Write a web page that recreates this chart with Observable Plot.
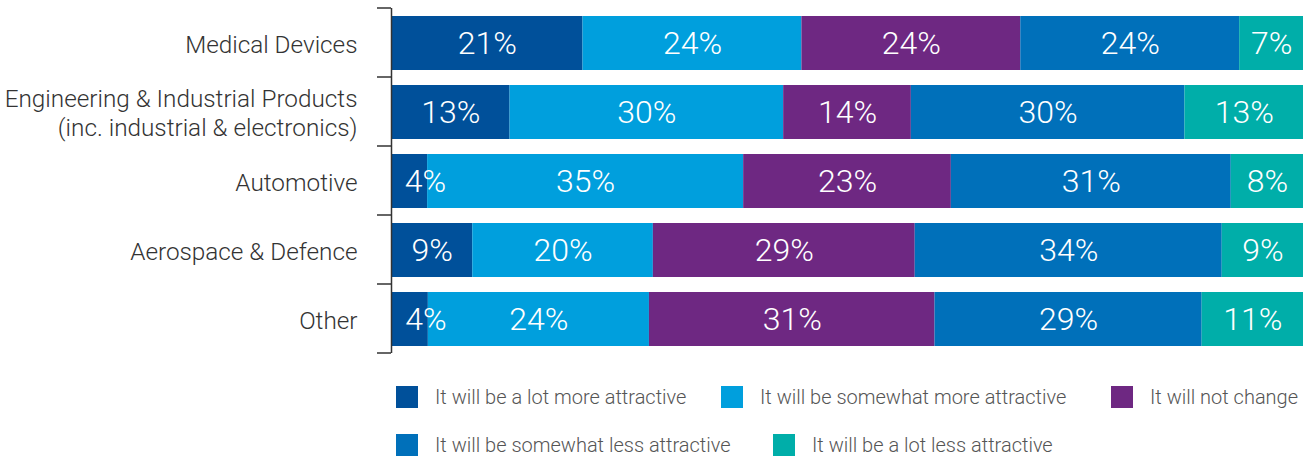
<!DOCTYPE html>
<html>
<head>
<meta charset="utf-8">
<script src="https://cdn.jsdelivr.net/npm/d3@7"></script>
<script src="https://cdn.jsdelivr.net/npm/@observablehq/plot@0.6"></script>
<style>
  body { margin: 0; background: #fff; font-family: Roboto, "Noto Sans", sans-serif; }
  #chart { position: relative; width: 1306px; }
  #legend { position: relative; width: 1306px; height: 98px; }
  .item { position: absolute; display: flex; align-items: center; font-size: 20px; font-weight: 300; color: #555; white-space: nowrap; }
  .sw { width: 22px; height: 22px; margin-right: 17px; flex: none; }
</style>
</head>
<body>
<div id="chart"></div>
<div id="legend"></div>
<script>
const categories = [
  "Medical Devices",
  "Engineering & Industrial Products\n(inc. industrial & electronics)",
  "Automotive",
  "Aerospace & Defence",
  "Other"
];
const series = [
  "It will be a lot more attractive",
  "It will be somewhat more attractive",
  "It will not change",
  "It will be somewhat less attractive",
  "It will be a lot less attractive"
];
const colors = ["#00509a", "#009fdd", "#6e2882", "#0070ba", "#00aea9"];
// values per category, in series order
const medical     = [21, 24, 24, 24, 7];
const engineering = [13, 30, 14, 30, 13];
const automotive  = [4, 35, 23, 31, 8];
const aerospace   = [9, 20, 29, 34, 9];
const other       = [4, 24, 31, 29, 11];
const valuesByCategory = [medical, engineering, automotive, aerospace, other];

const data = [];
categories.forEach((c, i) => series.forEach((s, j) => data.push({category: c, series: s, value: valuesByCategory[i][j]})));

const stack = {x: "value", y: "category", z: "series", order: series, offset: "normalize"};
const labelStyle = {fill: "white", fontSize: 32, fontWeight: 300};

// small tick marks at the category band boundaries on the left axis
function boundaryTicks(index, scales, values, dims) {
  const g = d3.create("svg:g").attr("stroke", "#333").attr("stroke-width", 1.5);
  const n = categories.length;
  const step = (dims.height - dims.marginTop - dims.marginBottom) / n;
  for (let i = 0; i <= n; i++) {
    const yy = dims.marginTop + i * step;
    g.append("line").attr("x1", dims.marginLeft - 14).attr("x2", dims.marginLeft).attr("y1", yy).attr("y2", yy);
  }
  return g.node();
}

const chart = Plot.plot({
  width: 1306,
  height: 360,
  marginLeft: 391,
  marginRight: 3,
  marginTop: 8,
  marginBottom: 7,
  style: {fontFamily: "Roboto, 'Noto Sans', sans-serif", background: "#fff"},
  x: {axis: null},
  y: {domain: categories, paddingInner: 0.22, paddingOuter: 0.11, axis: null},
  color: {domain: series, range: colors},
  marks: [
    Plot.barX(data, Plot.stackX({...stack, fill: "series"})),
    Plot.text(data, Plot.stackX({...stack, ...labelStyle, text: d => d.value >= 6 ? d.value + "%" : null})),
    Plot.text(data, Plot.stackX({...stack, ...labelStyle, text: d => d.value < 6 ? d.value + "%" : null, dx: 16})),
    Plot.ruleX([0], {stroke: "#333", strokeWidth: 1.5}),
    Plot.axisY({tickSize: 0, tickPadding: 34, fontSize: 24.3, fontWeight: 300, color: "#333", lineHeight: 1.2, label: null}),
    boundaryTicks
  ]
});
document.getElementById("chart").appendChild(chart);

const legendPos = [[396, 25], [721, 25], [1111, 25], [396, 73], [773, 73]];
const legend = document.getElementById("legend");
series.forEach((s, i) => {
  const it = document.createElement("div");
  it.className = "item";
  it.style.left = legendPos[i][0] + "px";
  it.style.top = legendPos[i][1] + "px";
  it.innerHTML = `<span class="sw" style="background:${colors[i]}"></span><span>${s}</span>`;
  legend.appendChild(it);
});
</script>
</body>
</html>
